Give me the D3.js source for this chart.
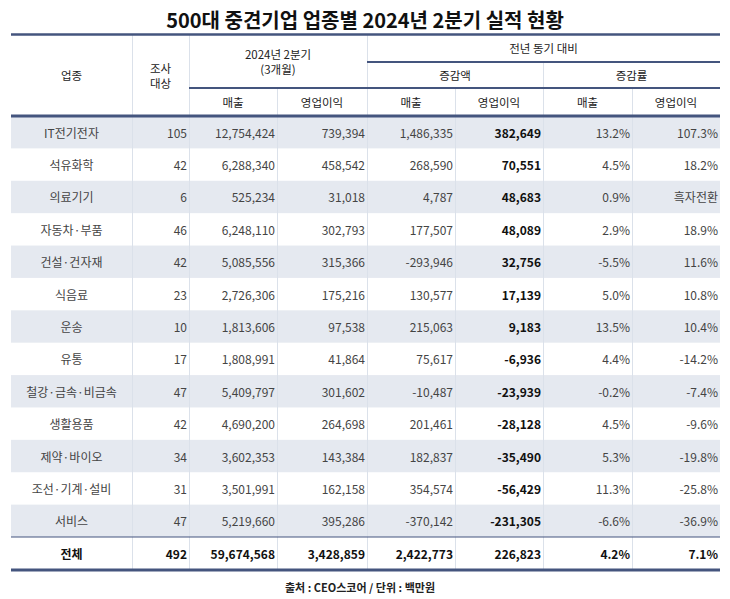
<!DOCTYPE html>
<html>
<head>
<meta charset="utf-8">
<script src="https://cdn.jsdelivr.net/npm/d3@7"></script>
<style>
  body { margin: 0; background: #fff; }
  svg { display: block; font-family: 'Noto Sans CJK KR', 'Noto Sans', sans-serif; }
</style>
</head>
<body>
<svg id="chart" width="730" height="599"></svg>
<script>
// 업종별 데이터 (단위: 백만원)
const industries = ['IT전기전자', '석유화학', '의료기기', '자동차·부품', '건설·건자재', '식음료', '운송', '유통',
  '철강·금속·비금속', '생활용품', '제약·바이오', '조선·기계·설비', '서비스']
const companies = [105, 42, 6, 46, 42, 23, 10, 17, 47, 42, 34, 31, 47]
const sales = [12754424, 6288340, 525234, 6248110, 5085556, 2726306, 1813606, 1808991, 5409797, 4690200, 3602353, 3501991, 5219660]
const opProfit = [739394, 458542, 31018, 302793, 315366, 175216, 97538, 41864, 301602, 264698, 143384, 162158, 395286]
const salesDiff = [1486335, 268590, 4787, 177507, -293946, 130577, 215063, 75617, -10487, 201461, 182837, 354574, -370142]
const opDiff = [382649, 70551, 48683, 48089, 32756, 17139, 9183, -6936, -23939, -28128, -35490, -56429, -231305]
const salesRate = [13.2, 4.5, 0.9, 2.9, -5.5, 5.0, 13.5, 4.4, -0.2, 4.5, 5.3, 11.3, -6.6]
const opRate = [107.3, 18.2, null, 18.9, 11.6, 10.8, 10.4, -14.2, -7.4, -9.6, -19.8, -25.8, -36.9] // null = 흑자전환
const total = { name: '전체', companies: 492, sales: 59674568, opProfit: 3428859, salesDiff: 2422773, opDiff: 226823, salesRate: 4.2, opRate: 7.1 }

const title = '500대 중견기업 업종별 2024년 2분기 실적 현황'
const source = '출처 : CEO스코어 / 단위 : 백만원'

const svg = d3.select('#chart')
const W = 730
const left = 11
const colW = [121, 57, 88, 90, 88, 88, 89, 88]
const edges = [left, ...d3.cumsum(colW).map(d => d + left)]
const right = edges[edges.length - 1]

const headTop = 34.5
const headY1 = 62
const headY2 = 88
const headBottom = 116
const totalTop = 537
const totalBottom = 570

const dark = '#44557e'
const light = '#dbe1ea'
const stripe = '#e5e9f0'

// plain hyphen minus, like the source table
const locale = d3.formatLocale({ decimal: '.', thousands: ',', grouping: [3], currency: ['', ''], minus: '-' })
const fmt = locale.format(',')
const pct = v => v == null ? '흑자전환' : locale.format('.1f')(v) + '%'

const y = d3.scaleBand()
  .domain(d3.range(industries.length))
  .range([headBottom, totalTop])

// title
svg.append('text')
  .attr('x', W / 2).attr('y', 19)
  .attr('text-anchor', 'middle').attr('dominant-baseline', 'central')
  .style('font-size', '20px').style('font-weight', 'bold').style('fill', '#111')
  .text(title)

// stripes
svg.append('g').selectAll('rect')
  .data(d3.range(industries.length).filter(i => i % 2 === 0))
  .join('rect')
  .attr('x', left).attr('width', right - left)
  .attr('y', i => y(i)).attr('height', y.bandwidth())
  .attr('fill', stripe)

// vertical grid lines
const vLines = [
  [edges[1], headTop, totalBottom], [edges[2], headTop, totalBottom],
  [edges[3], headY2, totalBottom], [edges[4], headTop, totalBottom],
  [edges[5], headY2, totalBottom], [edges[6], headY1, totalBottom],
  [edges[7], headY2, totalBottom]
]
svg.append('g').selectAll('line')
  .data(vLines)
  .join('line')
  .attr('x1', d => d[0] + 0.5).attr('x2', d => d[0] + 0.5)
  .attr('y1', d => d[1]).attr('y2', d => d[2])
  .attr('stroke', light).attr('stroke-width', 1)

// horizontal rules
const hLines = [
  [left, right, headTop, 2.5], [edges[4], right, headY1, 2],
  [edges[2], right, headY2, 2], [left, right, headBottom, 3],
  [left, right, totalTop, 1.2], [left, right, totalBottom, 3]
]
svg.append('g').selectAll('line')
  .data(hLines)
  .join('line')
  .attr('x1', d => d[0]).attr('x2', d => d[1])
  .attr('y1', d => d[2]).attr('y2', d => d[2])
  .attr('stroke', dark).attr('stroke-width', d => d[3])

// header labels
const mid = (a, b) => (edges[a] + edges[b]) / 2
const headers = [
  { x: mid(0, 1), y: (headTop + headBottom) / 2, lines: ['업종'] },
  { x: mid(1, 2), y: (headTop + headBottom) / 2, lines: ['조사', '대상'] },
  { x: mid(2, 4), y: (headTop + headY2) / 2, lines: ['2024년 2분기', '(3개월)'] },
  { x: mid(4, 8), y: (headTop + headY1) / 2, lines: ['전년 동기 대비'] },
  { x: mid(4, 6), y: (headY1 + headY2) / 2, lines: ['증감액'] },
  { x: mid(6, 8), y: (headY1 + headY2) / 2, lines: ['증감률'] },
  ...d3.range(6).map(i => ({ x: mid(i + 2, i + 3), y: (headY2 + headBottom) / 2, lines: [i % 2 === 0 ? '매출' : '영업이익'] }))
]
const lh = 14.5
const hg = svg.append('g')
  .style('font-size', '11.5px').style('fill', '#222')
headers.forEach(h => {
  h.lines.forEach((t, k) => {
    hg.append('text')
      .attr('x', h.x)
      .attr('y', h.y + (k - (h.lines.length - 1) / 2) * lh)
      .attr('text-anchor', 'middle').attr('dominant-baseline', 'central')
      .text(t)
  })
})

// body rows
const rows = industries.map((name, i) => ({
  cells: [name, fmt(companies[i]), fmt(sales[i]), fmt(opProfit[i]), fmt(salesDiff[i]), fmt(opDiff[i]), pct(salesRate[i]), pct(opRate[i])],
  y: y(i) + y.bandwidth() / 2,
  bold: c => c === 5
}))
rows.push({
  cells: [total.name, fmt(total.companies), fmt(total.sales), fmt(total.opProfit), fmt(total.salesDiff), fmt(total.opDiff), pct(total.salesRate), pct(total.opRate)],
  y: (totalTop + totalBottom) / 2,
  bold: () => true
})

const body = svg.append('g').style('font-size', '12px')
rows.forEach(r => {
  body.append('g').selectAll('text')
    .data(r.cells)
    .join('text')
    .attr('x', (d, c) => c === 0 ? mid(0, 1) : edges[c + 1] - 2)
    .attr('y', r.y)
    .attr('text-anchor', (d, c) => c === 0 ? 'middle' : 'end')
    .attr('dominant-baseline', 'central')
    .style('font-weight', (d, c) => r.bold(c) ? 'bold' : 'normal')
    .style('fill', (d, c) => r.bold(c) ? '#111' : '#444')
    .text(d => d)
})

// source
svg.append('text')
  .attr('x', W / 2 - 5).attr('y', 587)
  .attr('text-anchor', 'middle').attr('dominant-baseline', 'central')
  .style('font-size', '11px').style('font-weight', 'bold').style('fill', '#222')
  .text(source)
</script>
</body>
</html>
